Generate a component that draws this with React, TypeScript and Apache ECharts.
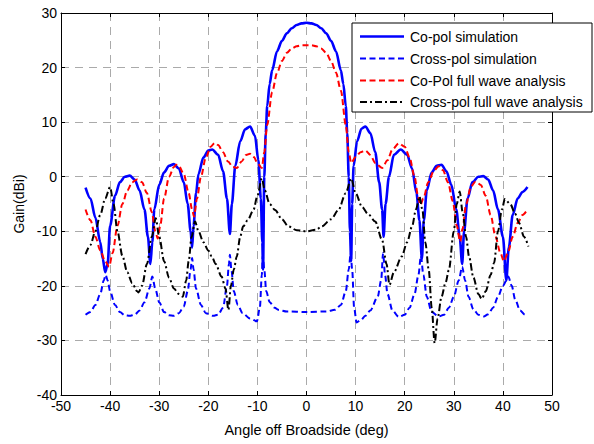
import React, { useEffect, useRef } from "react";
import * as echarts from "echarts";

const xTicks = { min: -50, max: 50, interval: 10 };
const yTicks = { min: -40, max: 30, interval: 10 };

const seriesNames = [
  "Co-pol simulation",
  "Cross-pol simulation",
  "Co-Pol full wave analysis",
  "Cross-pol full wave analysis",
];

const coPolSim: [number, number][] = [
  [-45, -2], [-44, -4], [-43, -7.5], [-42, -12], [-41.5, -15], [-41, -17.5], [-40.5, -16], [-40, -9],
  [-39, -3.5], [-38, -1], [-37, 0], [-36, 0.2], [-35, -0.5], [-34, -2.5], [-33, -6], [-32.3, -11],
  [-31.8, -16], [-31.4, -12], [-31, -6], [-30, -1.5], [-29, 0.8], [-28, 2], [-27, 2.3], [-26, 1.5],
  [-25, -1], [-24.2, -5], [-23.6, -10], [-23.3, -13], [-23, -9], [-22.5, -3], [-22, 0.5], [-21, 3.5],
  [-20, 4.8], [-19.2, 5], [-18, 4], [-17, 1], [-16.2, -4], [-15.6, -10.5], [-15.2, -5], [-14.5, 2],
  [-13.5, 6.5], [-12.5, 8.7], [-11.5, 9.2], [-10.5, 7.5], [-9.8, 3], [-9.3, -4], [-9, -12], [-8.85, -17],
  [-8.6, 0], [-8.3, 8], [-8, 13], [-7.5, 17], [-7, 19.5], [-6, 23], [-5, 24.9], [-4, 26.3],
  [-3, 27.2], [-2, 27.8], [-1, 28.1], [0, 28.2], [1, 28.1], [2, 27.8], [3, 27.2], [4, 26.3], [5, 24.9],
  [6, 23], [7, 19.5], [7.5, 17], [8, 13], [8.3, 8], [8.6, 0], [8.85, -10], [9.1, -15.5], [9.3, -5],
  [9.6, 2], [10.3, 6.5], [11.2, 8.8], [12, 9.2], [13, 8], [14, 4.5], [14.8, -1], [15.4, -6],
  [15.7, -11], [16.1, -5], [16.8, 0], [17.8, 4], [19.2, 5], [20.5, 4], [21.5, 1.5], [22.4, -3],
  [23, -8], [23.5, -15], [23.9, -8], [24.5, -2.5], [25.5, 0.8], [26.5, 2], [27.5, 2.2], [28.5, 1],
  [29.5, -1.5], [30.5, -6], [31.2, -11], [31.7, -16], [32.1, -10], [32.8, -4], [33.8, -1], [35, 0],
  [36, 0.1], [37, -0.5], [38, -2.5], [39, -6], [40, -11], [40.7, -19], [41.2, -13], [42, -7],
  [43, -4], [44, -2.8], [45, -1.9],
];

const crossPolSim: [number, number][] = [
  [-45, -25.3], [-44, -24.8], [-43, -23.5], [-42, -21.5], [-41.3, -19], [-40.9, -18], [-40.5, -19],
  [-40, -21], [-39, -23.5], [-38, -24.8], [-37, -25.4], [-36, -25.5], [-35, -25.3], [-34, -24.5],
  [-33, -23], [-32, -20.5], [-31.4, -18.3], [-30.8, -20.5], [-30, -23], [-29, -24.8], [-28, -25.4],
  [-27, -25.5], [-26, -25], [-25, -23.8], [-24.2, -21], [-23.6, -17], [-23.3, -14.9], [-23, -17],
  [-22.5, -20.5], [-21.5, -23.5], [-20.5, -25], [-19, -25.5], [-18, -25.3], [-17, -24], [-16.2, -20],
  [-15.8, -16], [-15.6, -14.3], [-15.3, -17], [-14.8, -21], [-14, -23.5], [-13, -25], [-11.5, -26],
  [-10.1, -26.5], [-9.5, -24], [-9.1, -18], [-8.9, -14.5], [-8.6, -17], [-8.2, -21], [-7.5, -23],
  [-6.5, -24], [-5.7, -24.4], [-4, -24.7], [0, -24.8], [4, -24.7], [5.8, -24.4], [7, -23.5],
  [8, -21], [8.6, -17], [9, -14], [9.3, -17], [9.7, -24], [10.2, -26.7], [11, -26.3], [12, -25.5],
  [13, -24.5], [14.5, -22], [15.2, -19], [15.6, -14], [16, -18], [16.5, -21.5], [17.5, -24.5],
  [18.8, -25.7], [20, -25.3], [21, -24], [22, -21.5], [22.8, -18], [23.3, -14.5], [23.8, -18],
  [24.5, -22], [25.5, -24.8], [26.9, -25.6], [28, -25.3], [29, -24], [30, -22], [31, -19],
  [31.7, -16.5], [32.3, -19], [33, -22], [34, -24.3], [35, -25.3], [36.1, -25.6], [37, -25.2],
  [38, -24], [39, -22], [40, -20], [41.1, -18.3], [41.8, -20], [42.5, -22.5], [43.5, -24.5],
  [44.5, -25.3], [45, -25.5],
];

const coPolFullWave: [number, number][] = [
  [-45, -6], [-44, -8], [-43, -11], [-42, -13.5], [-41, -15.5], [-40.2, -16.5], [-39.5, -14],
  [-38.5, -9], [-37.5, -5], [-36.5, -2.5], [-35.5, -1], [-34.5, -0.5], [-33.5, -1], [-32.5, -3],
  [-31.5, -6.5], [-30.8, -10], [-30.3, -11.3], [-29.8, -9], [-29, -4], [-28, 0], [-27, 1.8],
  [-26.5, 2.2], [-26, 2], [-25, 0.5], [-24, -3], [-23.3, -6], [-22.9, -7.3], [-22.3, -4], [-21.5, 0],
  [-20.5, 3.5], [-19.5, 5.5], [-18.7, 6.2], [-18, 5.8], [-17, 4.5], [-16, 2.8], [-15, 1.8],
  [-14.2, 1.6], [-13.2, 2.8], [-12.3, 4], [-11.5, 4.2], [-10.7, 3.6], [-10, 2.5], [-9.1, 1.6],
  [-8.6, 4.5], [-8, 9.5], [-7, 15.5], [-6, 19], [-5, 21.2], [-4, 22.7], [-3, 23.5], [-2, 23.9],
  [-1, 24.1], [0, 24.1], [1, 24.1], [2, 23.9], [3, 23.5], [4, 22.7], [5, 21.2], [6, 19.1], [7, 15.8],
  [8, 9.5], [8.6, 4.5], [9.1, 2.5], [10, 3.6], [11, 4.5], [12, 4.8], [13, 4], [14, 2.5], [15.4, 1.6],
  [16.5, 3], [17.5, 5], [18.8, 6.1], [20, 5.5], [21, 3.5], [22, 0], [22.7, -3.5], [23.2, -5.2],
  [23.8, -4], [24.8, -1], [26, 1.2], [26.9, 1.9], [27.8, 1.2], [28.8, -1], [29.8, -4.5], [30.6, -9],
  [31.3, -11.9], [31.8, -9.5], [32.5, -5], [33.5, -1.8], [34.4, -0.9], [35.5, -1.5], [36.5, -3.5],
  [37.5, -7], [38.5, -11], [39.5, -14], [40.2, -15.5], [41, -14], [42, -11], [43, -8.5], [44, -7],
  [45, -6],
];

const crossPolFullWave: [number, number][] = [
  [-45, -14.2], [-44, -12.5], [-43, -10], [-42, -7], [-41, -4], [-40, -1.9], [-39.3, -5], [-38.5, -10],
  [-37.5, -14.5], [-36.5, -17.5], [-35.5, -19.5], [-34.5, -21], [-34.2, -21.2], [-33.5, -20],
  [-32.5, -16], [-31.5, -11], [-30.7, -7.6], [-30, -11], [-29, -15.5], [-28, -18.5], [-27, -20.5],
  [-26, -21.5], [-25.2, -22], [-24.5, -19], [-24, -15.5], [-23.4, -11], [-22.7, -8.2], [-22, -10],
  [-21, -12], [-20, -13.5], [-19.3, -14.6], [-18.5, -16], [-17.3, -18.3], [-16.5, -20.5],
  [-15.9, -24.4], [-15.4, -20], [-14.8, -17], [-14.2, -14.6], [-13.5, -11], [-12.9, -9.1], [-12, -8],
  [-10.8, -6.1], [-10, -3.5], [-9.1, -0.3], [-8.5, -2.5], [-7.5, -5], [-6.4, -6.1], [-5, -7.8],
  [-3.7, -9.1], [-2, -9.8], [0, -10], [2, -9.7], [3.1, -9.1], [5, -7.8], [6.5, -6.1], [8, -3],
  [9.1, -0.3], [10, -3], [11.3, -5.5], [12.5, -6.8], [14, -8.2], [15.4, -11.6], [16.3, -16],
  [16.9, -19.8], [17.8, -17.5], [19.4, -14.6], [20.5, -12], [21.5, -9.1], [22.3, -6], [23, -3.6],
  [23.6, -6], [24.2, -12], [24.9, -17.1], [25.5, -24], [26.1, -30.5], [26.7, -26], [27.5, -22],
  [28.3, -19.5], [29, -17.1], [30, -10], [30.6, -5], [31.2, -2.7], [31.8, -6.5], [32.5, -11],
  [33.1, -14.6], [34, -18.5], [35, -21.5], [35.7, -22.4], [36.5, -21], [37.5, -18], [38.2, -15.8],
  [39, -10], [39.8, -6], [40.4, -4.1], [41.5, -5], [42.5, -6.8], [43.3, -8.5], [44.3, -11],
  [45.2, -12.8],
];

const FONT = "'Liberation Sans', Arial, sans-serif";

const styles = [
  { color: "#0000ff", width: 2.6, dash: null as number[] | null },
  { color: "#0000ff", width: 2, dash: [6, 3.5] },
  { color: "#ff0000", width: 2, dash: [6, 3.5] },
  { color: "#000000", width: 2, dash: [7, 3, 2, 3] },
];

export default function App() {
  const ref = useRef<HTMLDivElement>(null);
  useEffect(() => {
    if (!ref.current) return;
    const chart = echarts.init(ref.current, undefined, { renderer: "svg" });
    const datasets = [coPolSim, crossPolSim, coPolFullWave, crossPolFullWave];
    const gridLeft = 61, gridTop = 13, gridRight = 594 - 552, gridBottom = 444 - 395;

    const legendX = 352, legendY = 23, legendW = 240, legendH = 89;
    const rowY = [36.5, 58.5, 80.5, 102];
    const legendEls: any[] = [
      {
        type: "rect",
        shape: { x: legendX, y: legendY, width: legendW, height: legendH },
        style: { fill: "#ffffff", stroke: "#000000", lineWidth: 1 },
        z: 100,
      },
    ];
    seriesNames.forEach((name, i) => {
      const s = styles[i];
      legendEls.push({
        type: "line",
        shape: { x1: 360, y1: rowY[i], x2: 404, y2: rowY[i] },
        style: { stroke: s.color, lineWidth: s.width, lineDash: s.dash || undefined },
        z: 101,
      });
      legendEls.push({
        type: "text",
        x: 410,
        y: rowY[i],
        style: {
          text: name,
          fill: "#000000",
          font: `14px ${FONT}`,
          textVerticalAlign: "middle",
          textAlign: "left",
        },
        z: 101,
      });
    });

    const axisLineStyle = { color: "#000000", width: 1 };
    chart.setOption({
      animation: false,
      backgroundColor: "#ffffff",
      textStyle: { fontFamily: FONT },
      grid: { left: gridLeft, top: gridTop, right: gridRight, bottom: gridBottom, containLabel: false },
      xAxis: [
        {
          type: "value",
          min: xTicks.min,
          max: xTicks.max,
          interval: xTicks.interval,
          position: "bottom",
          name: "Angle off Broadside (deg)",
          nameLocation: "middle",
          nameGap: 27,
          nameTextStyle: { fontSize: 14.5, color: "#000", fontFamily: FONT },
          axisLine: { show: true, onZero: false, lineStyle: axisLineStyle },
          axisTick: { show: true, inside: true, length: 4, lineStyle: axisLineStyle },
          axisLabel: { fontSize: 14, color: "#000", margin: 4, fontFamily: FONT },
          splitLine: { show: true, lineStyle: { color: "#aaaaaa", width: 1, type: [8, 6] } },
        },
        {
          type: "value",
          min: xTicks.min,
          max: xTicks.max,
          interval: xTicks.interval,
          position: "top",
          axisLine: { show: true, onZero: false, lineStyle: axisLineStyle },
          axisTick: { show: true, inside: true, length: 4, lineStyle: axisLineStyle },
          axisLabel: { show: false },
          splitLine: { show: false },
        },
      ],
      yAxis: [
        {
          type: "value",
          min: yTicks.min,
          max: yTicks.max,
          interval: yTicks.interval,
          position: "left",
          name: "Gain(dBi)",
          nameLocation: "middle",
          nameGap: 28,
          nameTextStyle: { fontSize: 14, color: "#000", fontFamily: FONT },
          axisLine: { show: true, onZero: false, lineStyle: axisLineStyle },
          axisTick: { show: true, inside: true, length: 4, lineStyle: axisLineStyle },
          axisLabel: { fontSize: 14, color: "#000", margin: 4, fontFamily: FONT },
          splitLine: { show: true, lineStyle: { color: "#aaaaaa", width: 1, type: [8, 6] } },
        },
        {
          type: "value",
          min: yTicks.min,
          max: yTicks.max,
          interval: yTicks.interval,
          position: "right",
          axisLine: { show: true, onZero: false, lineStyle: axisLineStyle },
          axisTick: { show: true, inside: true, length: 4, lineStyle: axisLineStyle },
          axisLabel: { show: false },
          splitLine: { show: false },
        },
      ],
      series: datasets.map((d, i) => ({
        name: seriesNames[i],
        type: "line",
        xAxisIndex: 0,
        yAxisIndex: 0,
        data: d,
        showSymbol: false,
        symbol: "none",
        smooth: 0.3,
        smoothMonotone: "x",
        clip: true,
        lineStyle: {
          color: styles[i].color,
          width: styles[i].width,
          type: styles[i].dash ? styles[i].dash : "solid",
        },
        z: 2 + i,
      })),
      graphic: legendEls,
    });
    return () => chart.dispose();
  }, []);
  return (
    <div
      ref={ref}
      style={{ position: "absolute", left: 0, top: 0, width: 594, height: 444 }}
    />
  );
}
